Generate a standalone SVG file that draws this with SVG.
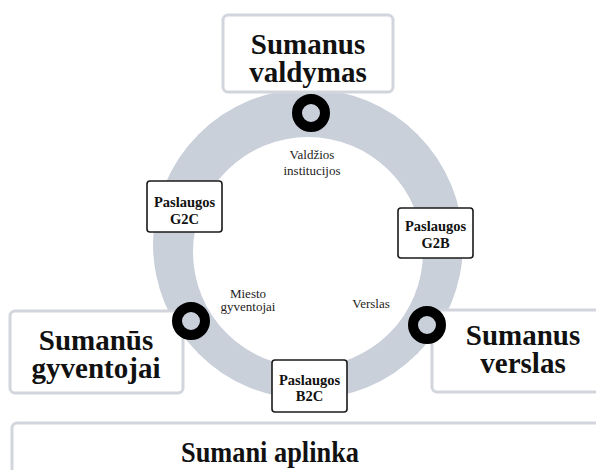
<svg xmlns="http://www.w3.org/2000/svg" width="596" height="470" viewBox="0 0 596 470">
<defs>
<style>
.ring{fill:#c9d0da;fill-rule:evenodd}
.big{fill:#fff;stroke:#d2d6dc;stroke-width:3}
.small{fill:#fff;stroke:#1a1a1a;stroke-width:1.6}
.bt{font-family:"Liberation Serif",serif;font-weight:bold;font-size:29px;fill:#111;text-anchor:middle}
.st{font-family:"Liberation Serif",serif;font-weight:bold;font-size:14.5px;fill:#111;text-anchor:middle}
.lt{font-family:"Liberation Serif",serif;font-size:13px;fill:#222;text-anchor:middle}
.mk{fill:#c9d0da;stroke:#000;stroke-width:10}
</style>
</defs>
<rect width="596" height="470" fill="#fff"/>
<g id="ring">
<path class="ring" d="M153,244 a155,155 0 1,0 310,0 a155,155 0 1,0 -310,0 Z M193,252 a115,115 0 1,0 230,0 a115,115 0 1,0 -230,0 Z"/>
</g>
<g id="aplinka">
<rect class="big" x="12" y="423" width="600" height="80" rx="5"/>
<text class="bt" x="270" y="462" textLength="178" lengthAdjust="spacingAndGlyphs">Sumani aplinka</text>
</g>
<g id="valdymas">
<rect class="big" x="223" y="15" width="170" height="77" rx="5"/>
<text class="bt" x="308" y="54">Sumanus</text>
<text class="bt" x="308" y="82">valdymas</text>
</g>
<g id="gyventojai">
<rect class="big" x="10" y="311" width="173" height="82" rx="5"/>
<text class="bt" x="96" y="350">Sumanūs</text>
<text class="bt" x="96" y="378">gyventojai</text>
</g>
<g id="verslas">
<rect class="big" x="432" y="310" width="180" height="82" rx="5"/>
<text class="bt" x="523" y="345">Sumanus</text>
<text class="bt" x="523" y="373">verslas</text>
</g>
<g id="g2c">
<rect class="small" x="147" y="181" width="75" height="51" rx="3"/>
<text class="st" x="184.5" y="207">Paslaugos</text>
<text class="st" x="184.5" y="224">G2C</text>
</g>
<g id="g2b">
<rect class="small" x="398" y="208" width="75" height="50" rx="3"/>
<text class="st" x="435.5" y="231">Paslaugos</text>
<text class="st" x="435.5" y="248">G2B</text>
</g>
<g id="b2c">
<rect class="small" x="272" y="360" width="75" height="52" rx="3"/>
<text class="st" x="309.5" y="385">Paslaugos</text>
<text class="st" x="309.5" y="401">B2C</text>
</g>
<g id="connectors">
<circle class="mk" cx="311" cy="113" r="14"/>
<circle class="mk" cx="191" cy="321" r="14"/>
<circle class="mk" cx="427" cy="325" r="14"/>
</g>
<g id="labels">
<text class="lt" x="312" y="159">Valdžios</text>
<text class="lt" x="312" y="175">institucijos</text>
<text class="lt" x="248" y="298">Miesto</text>
<text class="lt" x="248" y="311">gyventojai</text>
<text class="lt" x="371" y="308">Verslas</text>
</g>
</svg>
